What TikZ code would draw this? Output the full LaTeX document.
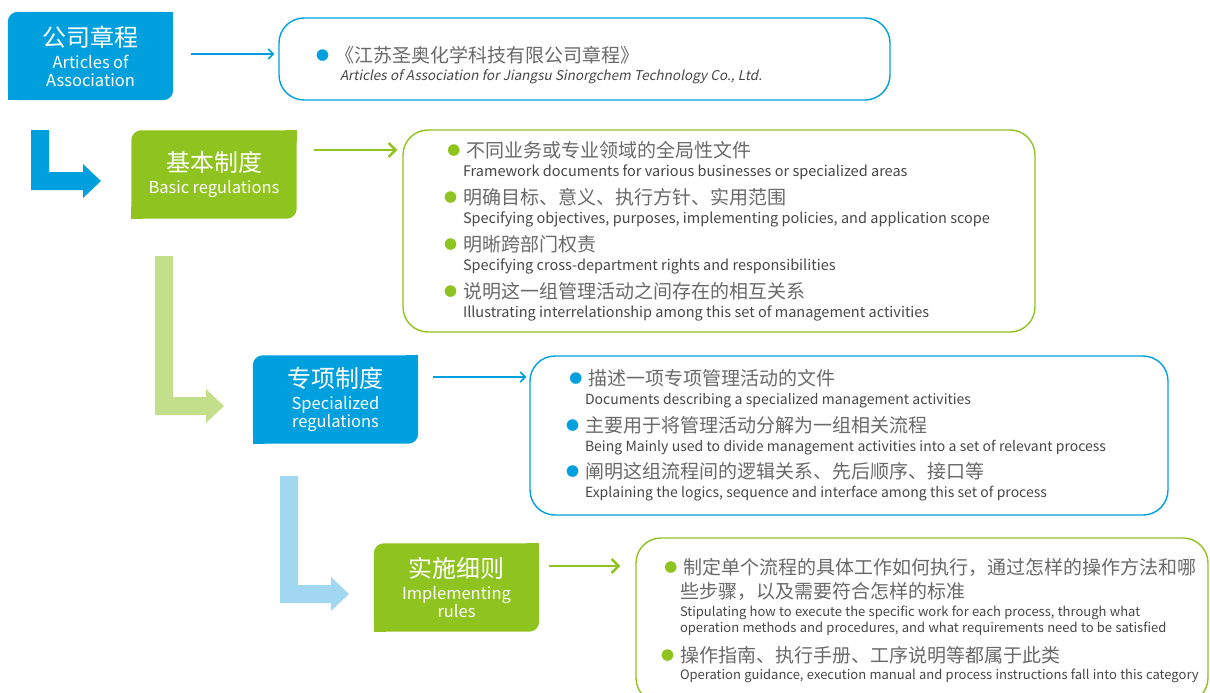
\documentclass[tikz,border=0pt]{standalone}
\usepackage{fontspec}
\setmainfont{Noto Sans CJK SC}[AutoFakeSlant=0.2]
\usetikzlibrary{positioning, arrows.meta, backgrounds, calc}

\definecolor{artblue}{RGB}{0,160,222}
\definecolor{rulegreen}{RGB}{143,195,31}
\definecolor{palegreen}{RGB}{196,223,139}
\definecolor{paleblue}{RGB}{162,215,242}
\definecolor{zhgray}{RGB}{105,105,105}
\definecolor{engray}{RGB}{70,70,70}

% title text: Chinese over English
\newcommand{\ttl}[2]{{\fontsize{24}{24}\selectfont #1\par}\vspace{4pt}{\fontsize{16.5}{18}\selectfont #2\par}}
% bullet hanging left of the text column
\newcommand{\bul}[1]{\llap{\raisebox{2pt}{\textcolor{#1}{\fontsize{13}{13}\selectfont ●}}\hspace{6pt}}}
\newcommand{\zhl}[2][30]{{\fontsize{19}{#1}\selectfont\color{zhgray}\leavevmode#2\par}}
\newcommand{\enl}[2][17]{{\fontsize{\ensize}{#1}\selectfont\color{engray}\mbox{#2}\par}}

\begin{document}
\begin{tikzpicture}[
    x=1pt, y=-1pt,
    titlebox/.style={text=white, text width=165pt, minimum height=88pt, inner xsep=0pt, align=center},
    descbox/.style={draw, line width=1.4pt, rounded corners=25pt, inner xsep=0pt, inner ysep=0pt, align=left},
    bluearrow/.style={-{Straight Barb[length=5pt, width=10pt]}, line width=1.6pt, artblue},
    greenarrow/.style={-{Straight Barb[length=7pt, width=14pt]}, line width=2.4pt, rulegreen},
]
\useasboundingbox (0,0) rectangle (1210,693);

\node[titlebox] (art) at (90.5,56) {\ttl{公司章程}{Articles of\\Association}};
\node[titlebox] (basic) at (214,174.5) {\ttl{基本制度}{Basic regulations}};
\node[titlebox] (spec) at (335.5,399.5) {\ttl{专项制度}{Specialized\\regulations}};
\node[titlebox] (impl) at (456.5,587.5) {\ttl{实施细则}{Implementing\\rules}};

\node[descbox, draw=artblue, text width=611pt, minimum height=82pt] (dart) at (584.5,59) {\leftskip=61pt
    \zhl{\rule{0pt}{29pt}\hspace*{-5pt}\bul{artblue}《江苏圣奥化学科技有限公司章程》}
    {\fontsize{13.5}{18}\selectfont\itshape\color{engray}\mbox{Articles of Association for Jiangsu Sinorgchem Technology Co., Ltd.}\par}};

\node[descbox, draw=rulegreen, text width=632pt, minimum height=202pt] (dbasic) at (719,231) {\leftskip=60pt \def\ensize{14.5}
    \zhl{\bul{rulegreen}不同业务或专业领域的全局性文件}
    \enl[19]{Framework documents for various businesses or specialized areas}
    \zhl[28]{\bul{rulegreen}明确目标、意义、执行方针、实用范围}
    \enl[19]{Specifying objectives, purposes, implementing policies, and application scope}
    \zhl[28]{\bul{rulegreen}明晰跨部门权责}
    \enl[19]{Specifying cross-department rights and responsibilities}
    \zhl[28]{\bul{rulegreen}说明这一组管理活动之间存在的相互关系}
    \enl[19]{Illustrating interrelationship among this set of management activities}};

\node[descbox, draw=artblue, text width=638pt, minimum height=159pt] (dspec) at (849,435.5) {\leftskip=55pt \def\ensize{14}
    \zhl{\bul{artblue}描述一项专项管理活动的文件}
    \enl[19]{Documents describing a specialized management activities}
    \zhl[27.5]{\bul{artblue}主要用于将管理活动分解为一组相关流程}
    \enl[19]{Being Mainly used to divide management activities into a set of relevant process}
    \zhl[27.5]{\bul{artblue}阐明这组流程间的逻辑关系、先后顺序、接口等}
    \enl[19]{Explaining the logics, sequence and interface among this set of process}};

\node[descbox, draw=rulegreen, text width=572pt, minimum height=165pt] (dimpl) at (922,620.5) {\leftskip=44pt \def\ensize{13}
    \zhl[24]{\bul{rulegreen}制定单个流程的具体工作如何执行，通过怎样的操作方法和哪\\些步骤，以及需要符合怎样的标准}
    \enl[18]{Stipulating how to execute the specific work for each process, through what}
    \enl[16]{operation methods and procedures, and what requirements need to be satisfied}
    \zhl{\bul{rulegreen}操作指南、执行手册、工序说明等都属于此类}
    \enl[17.5]{Operation guidance, execution manual and process instructions fall into this category}};

\foreach \a/\b/\dy/\s/\e/\st in {art/dart/2/18/4/bluearrow, basic/dbasic/24.5/17/5/greenarrow, spec/dspec/22.5/15/3/bluearrow, impl/dimpl/21.5/10/15/greenarrow}{
    \draw[\st, shorten <=\s pt, shorten >=\e pt] ([yshift=\dy pt]\a.east) -- ([yshift=\dy pt]\a.east -| \b.west);
}

% step arrows down to the next level
\foreach \x/\t/\b/\tip/\c in {31/130/190/101/artblue, 155/256/415/224/palegreen, 280/476/603/349/paleblue}{
    \fill[\c] (\x,\t) -- (\x+18,\t) -- (\x+18,\b-18) -- (\tip-18,\b-18) -- (\tip-18,\b-26)
        -- (\tip,\b-9) -- (\tip-18,\b+8) -- (\tip-18,\b) -- (\x,\b) -- cycle;
}

\begin{scope}[on background layer]
    \foreach \n/\c in {art/artblue, basic/rulegreen, spec/artblue, impl/rulegreen}{
        \fill[\c, rounded corners=10pt] (\n.south west) rectangle (\n.north east);
        \fill[\c] (\n.north east) rectangle ([xshift=-12pt, yshift=-12pt]\n.north east);
        \fill[\c] (\n.south west) rectangle ([xshift=12pt, yshift=12pt]\n.south west);
    }
\end{scope}

\end{tikzpicture}
\end{document}
